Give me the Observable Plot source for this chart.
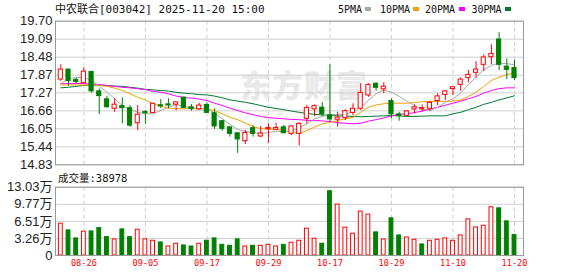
<!DOCTYPE html>
<html><head><meta charset="utf-8">
<script src="https://cdn.jsdelivr.net/npm/d3@7"></script>
<script src="https://cdn.jsdelivr.net/npm/@observablehq/plot@0.6"></script>
<style>
body{margin:0;background:#fff;}
#wrap{position:relative;width:578px;height:276px;overflow:hidden;background:#fff;}
#wrap svg{position:absolute;left:0;top:0;}
.t{position:absolute;white-space:nowrap;font-family:"DejaVu Sans Mono","Noto Sans CJK SC",monospace;color:#111;line-height:1;}
.sq{position:absolute;width:6px;height:3.5px;}
.wm{position:absolute;white-space:nowrap;font-family:"Noto Sans CJK SC",sans-serif;font-weight:900;color:#e9e9e9;font-size:31px;line-height:1;letter-spacing:1px;}
</style></head>
<body><div id="wrap"></div>
<script>
// ---- data ----
const dates = ["08-21","08-22","08-25","08-26","08-27","08-28","08-29","09-01","09-02","09-03","09-04","09-05","09-08","09-09","09-10","09-11","09-12","09-15","09-16","09-17","09-18","09-19","09-22","09-23","09-24","09-25","09-26","09-29","09-30","10-09","10-10","10-13","10-14","10-15","10-16","10-17","10-20","10-21","10-22","10-23","10-24","10-27","10-28","10-29","10-30","10-31","11-03","11-04","11-05","11-06","11-07","11-10","11-11","11-12","11-13","11-14","11-17","11-18","11-19","11-20"];
const tickDates = ["08-26","09-05","09-17","09-29","10-17","10-29","11-10","11-20"];
const open  = [17.72,18.06,17.71,17.60,17.98,17.32,17.05,16.73,16.82,16.75,16.24,16.62,16.59,16.85,16.88,16.87,17.11,16.78,16.71,16.86,16.58,16.31,16.10,15.90,15.63,16.07,15.79,16.04,16.02,16.10,15.88,15.88,16.39,16.71,16.77,16.51,16.36,16.41,16.59,16.73,17.18,17.58,17.39,16.99,16.54,16.49,16.71,16.71,16.73,16.99,17.20,17.40,17.54,17.77,17.95,18.22,18.48,19.08,18.16,18.11];
const close = [18.06,17.67,17.64,17.99,17.32,17.16,16.78,16.87,16.75,16.16,16.53,16.58,16.90,16.81,16.84,16.95,16.76,16.72,16.84,16.59,16.13,16.05,15.88,15.69,15.91,15.88,15.89,16.08,16.08,15.90,16.13,16.22,16.76,16.82,16.54,16.37,16.43,16.65,16.73,17.27,17.54,17.44,17.48,16.54,16.48,16.64,16.78,16.75,16.93,17.15,17.32,17.46,17.72,17.88,18.06,18.47,18.59,18.22,18.05,17.77];
const high  = [18.22,18.06,17.77,18.12,18.00,17.40,17.16,17.07,17.10,16.84,16.84,16.67,16.92,17.04,17.07,16.95,17.12,16.87,16.92,16.93,16.73,16.31,16.10,15.90,15.99,16.16,16.13,16.22,16.24,16.16,16.16,16.25,16.84,16.86,16.94,18.22,16.61,16.70,16.90,17.58,17.58,17.61,17.61,17.07,16.61,16.67,16.86,16.86,16.98,17.24,17.35,17.46,17.78,18.03,18.33,18.56,18.90,19.31,18.42,18.38];
const low   = [17.66,17.49,17.57,17.59,17.26,16.53,16.76,16.61,16.22,16.10,15.99,16.20,16.59,16.73,16.73,16.66,16.75,16.65,16.67,16.58,16.03,15.97,15.77,15.22,15.52,15.77,15.75,15.56,15.99,15.88,15.82,15.47,16.22,16.47,16.47,16.28,16.11,16.33,16.49,16.67,17.12,17.32,17.24,16.39,16.31,16.47,16.56,16.62,16.65,16.84,17.01,17.18,17.32,17.61,17.77,17.99,18.22,18.03,17.72,17.69];
const ma5  = [17.58,17.75,17.79,17.79,17.69,17.50,17.29,17.07,16.84,16.71,16.61,16.56,16.56,16.67,16.78,16.87,16.81,16.76,16.75,16.73,16.59,16.39,16.20,16.03,15.96,15.92,15.90,15.92,15.97,15.95,15.97,16.08,16.22,16.39,16.47,16.53,16.54,16.53,16.64,16.78,17.01,17.24,17.37,17.29,17.15,16.99,16.84,16.73,16.67,16.78,16.95,17.07,17.26,17.55,17.80,18.05,18.20,18.28,18.26,18.22];
const ma10 = [17.54,17.54,17.54,17.53,17.54,17.52,17.49,17.43,17.35,17.24,17.12,17.03,16.90,16.82,16.75,16.73,16.73,16.73,16.73,16.72,16.67,16.56,16.44,16.36,16.24,16.13,16.05,16.04,16.03,16.00,15.94,15.90,15.99,16.11,16.22,16.27,16.33,16.39,16.44,16.61,16.78,16.86,16.90,16.92,16.92,16.92,16.94,16.97,16.98,16.98,16.98,16.99,17.03,17.15,17.29,17.49,17.69,17.80,17.89,17.96];
const ma20 = [17.58,17.58,17.59,17.58,17.57,17.55,17.52,17.49,17.46,17.44,17.41,17.38,17.32,17.29,17.24,17.16,17.11,17.09,17.06,17.01,16.92,16.84,16.75,16.67,16.59,16.53,16.47,16.43,16.41,16.39,16.37,16.36,16.34,16.33,16.32,16.30,16.26,16.24,16.22,16.24,16.31,16.36,16.42,16.49,16.54,16.56,16.60,16.65,16.72,16.78,16.85,16.92,16.99,17.07,17.15,17.26,17.35,17.41,17.44,17.44];
const ma30 = [17.44,17.46,17.49,17.52,17.53,17.53,17.52,17.50,17.49,17.46,17.43,17.39,17.37,17.35,17.33,17.29,17.26,17.24,17.21,17.20,17.16,17.10,17.03,16.99,16.95,16.90,16.84,16.78,16.74,16.70,16.65,16.61,16.57,16.54,16.52,16.50,16.49,16.48,16.47,16.46,16.47,16.48,16.49,16.50,16.49,16.47,16.47,16.48,16.49,16.49,16.49,16.56,16.61,16.70,16.78,16.88,16.95,17.03,17.10,17.17];
// volume in 万 (10k lots)
const volume = [6.07,4.79,3.26,4.54,4.60,5.23,3.51,3.07,4.98,3.51,4.92,3.07,2.81,2.49,1.72,2.24,1.92,1.72,2.24,2.81,3.26,2.04,1.85,3.07,1.72,1.85,1.85,2.04,1.72,2.04,2.43,2.81,5.11,3.19,2.24,12.26,9.71,5.30,4.15,8.37,7.80,4.41,3.04,7.09,3.83,3.45,3.00,2.11,2.81,3.00,3.26,2.81,3.83,6.90,5.36,5.68,9.20,9.00,6.51,3.8978];
const volUp = [1,0,0,1,0,0,0,1,0,0,1,1,1,0,1,1,0,0,1,0,0,0,0,0,1,0,1,1,1,0,1,1,1,1,0,0,1,1,1,1,1,0,1,0,0,1,1,0,1,1,1,1,1,1,1,1,1,0,0,0];
const priceTicks = [14.83,15.44,16.05,16.66,17.27,17.87,18.48,19.09,19.70];
const volTicks = [0,3.26,6.51,9.77,13.03];
const lastVolume = "38978";
const title = "中农联合[003042] 2025-11-20 15:00";
const maNames = ["5PMA","10PMA","20PMA","30PMA"];
const maColors = ["#a8a8a8","#f5a000","#ff00ff","#007a33"];

// ---- chart ----
const UP = "#ff0000", DOWN = "#008000";
const W = 578, H = 276, ML = 55, MR = 55;
const xDomain = [-0.69, 60.17];
const idx = d3.range(dates.length);
const candles = idx.map(i => ({i, o: open[i], c: close[i], h: high[i], l: low[i], up: close[i] >= open[i]}));
const vols = idx.map(i => ({i, v: volume[i], up: volUp[i] === 1}));
const tickIdx = tickDates.map(d => dates.indexOf(d));
const axisFont = '"Liberation Sans", Arial, "Noto Sans CJK SC", sans-serif';
const hw = 0.27;

const maSeries = [ma5, ma10, ma20, ma30];

const price = Plot.plot({
  width: W, height: H,
  marginLeft: ML, marginRight: MR, marginTop: 20.7, marginBottom: H - 164.3,
  style: {background: "transparent", overflow: "visible", fontFamily: axisFont, fontSize: "13px", color: "#222"},
  x: {domain: xDomain, axis: null},
  y: {domain: [priceTicks[0], priceTicks[priceTicks.length - 1]], axis: null},
  marks: [
    Plot.gridY(priceTicks, {stroke: "#cfcfcf", strokeOpacity: 1}),
    Plot.ruleX(tickIdx, {stroke: "#cfcfcf", strokeDasharray: "4,3", strokeOpacity: 1}),
    Plot.axisY(priceTicks, {tickSize: 0, tickPadding: 3, tickFormat: d => d.toFixed(2), fill: "#222", fontSize: 13, fontFamily: axisFont, label: null}),
    ...[3, 2, 1, 0].map(k => Plot.line(idx, {x: i => i, y: i => maSeries[k][i], stroke: maColors[k], strokeWidth: 1})),
    Plot.ruleX(candles, {x: "i", y1: "l", y2: "h", stroke: d => d.up ? UP : DOWN, strokeWidth: 1}),
    Plot.rect(candles, {x1: d => d.i - hw, x2: d => d.i + hw, y1: "o", y2: "c", fill: d => d.up ? "#fff" : DOWN, stroke: d => d.up ? UP : DOWN, strokeWidth: 1}),
    Plot.frame({stroke: "#999", strokeWidth: 1})
  ]
});

const vol = Plot.plot({
  width: W, height: H,
  marginLeft: ML, marginRight: MR, marginTop: 186.7, marginBottom: H - 255,
  style: {background: "transparent", overflow: "visible", fontFamily: axisFont, fontSize: "13px", color: "#222"},
  x: {domain: xDomain, axis: null},
  y: {domain: [0, volTicks[volTicks.length - 1]], axis: null},
  marks: [
    Plot.gridY(volTicks, {stroke: "#cfcfcf", strokeOpacity: 1}),
    Plot.ruleX(tickIdx, {stroke: "#cfcfcf", strokeDasharray: "4,3", strokeOpacity: 1}),
    Plot.axisY(volTicks, {tickSize: 0, tickPadding: 3, tickFormat: d => d === 0 ? "0" : d.toFixed(2) + "万", fill: "#222", fontSize: 13, fontFamily: axisFont, label: null}),
    Plot.rect(vols, {x1: d => d.i - 0.25, x2: d => d.i + 0.25, y1: 0, y2: "v", fill: d => d.up ? "#fff" : DOWN, stroke: d => d.up ? UP : DOWN, strokeWidth: 1}),
    Plot.text(tickIdx, {x: d => d, text: d => dates[d], frameAnchor: "bottom", dy: 10.5, fill: "#f00", fontSize: 8.6, fontFamily: '"DejaVu Sans Mono", monospace'}),
    Plot.frame({stroke: "#999", strokeWidth: 1})
  ]
});

const wrap = document.getElementById("wrap");
const wm = document.createElement("div");
wm.className = "wm"; wm.textContent = "东方财富";
wm.style.left = "240px"; wm.style.top = "68px";
wrap.appendChild(wm);
wrap.appendChild(price);
wrap.appendChild(vol);

function addText(txt, x, y, size, extra) {
  const d = document.createElement("div");
  d.className = "t"; d.textContent = txt;
  d.style.left = x + "px"; d.style.top = y + "px"; d.style.fontSize = size + "px";
  if (extra) Object.assign(d.style, extra);
  wrap.appendChild(d);
  return d;
}
addText(title, 55, 4, 11);
const legendX = [338, 380, 425, 471.5];
const sqX = [365, 413, 458.5, 504.5];
maNames.forEach((n, k) => {
  addText(n, legendX[k], 4.5, 10);
  const s = document.createElement("div");
  s.className = "sq"; s.style.left = sqX[k] + "px"; s.style.top = "7.3px"; s.style.background = maColors[k];
  wrap.appendChild(s);
});
addText("成交量:" + lastVolume, 58, 172.5, 10.5);
</script>
</body></html>
